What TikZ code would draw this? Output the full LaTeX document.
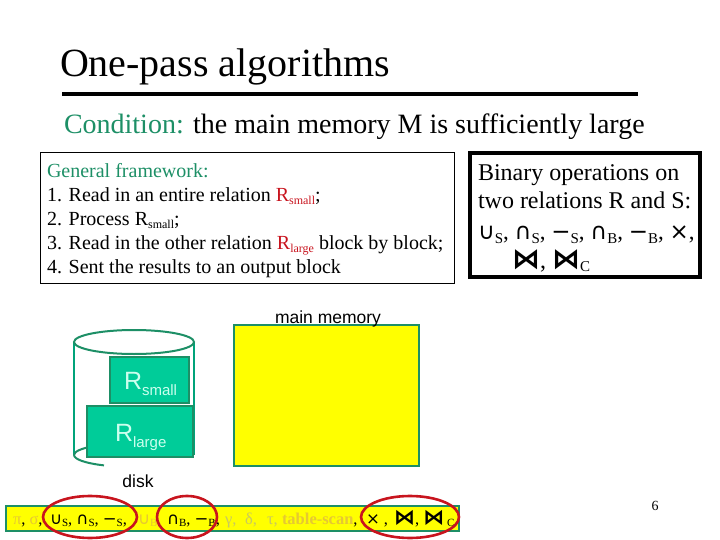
\documentclass[tikz,border=0pt]{standalone}
\usepackage{fontspec}
\setmainfont{Liberation Serif}
\setsansfont{Liberation Sans}
\newfontfamily\opfont{DejaVu Sans}
\definecolor{framegreen}{HTML}{1D8F66}
\definecolor{diskfill}{HTML}{00CC99}
\definecolor{disktext}{HTML}{CCFFEE}
\definecolor{ringred}{HTML}{C8141E}
\definecolor{fadeop}{HTML}{E6C832}
\definecolor{fadegreek}{HTML}{C8C860}
\definecolor{memyellow}{HTML}{FFFF00}
\newcommand{\fsz}[1]{\fontsize{#1}{#1}\selectfont}
\newcommand{\opsym}[1]{{\opfont #1}}
\newcommand{\joinsym}[1]{{\opfont\bfseries\fsz{#1}⋈}}
\newcommand{\low}[3][0.3ex]{\raisebox{-#1}{\fsz{#2}#3}}
\tikzset{
	plain/.style={inner sep=0pt, outer sep=0pt},
	disklabel/.style={plain, anchor=base west, text=disktext, font=\sffamily\fsz{25}},
	sanslabel/.style={plain, anchor=base, font=\sffamily\fsz{17.5}},
	striplabel/.style={plain, anchor=base west, font=\fsz{16.5}},
	binarylabel/.style={plain, anchor=base west, font=\fsz{24}},
	ring/.style={draw=ringred, line width=2.6pt}
}
\begin{document}
\begin{tikzpicture}[x=1pt, y=-1pt]
	\useasboundingbox (0,0) rectangle (720,540);

	% Draw the title and its rule
	\node[plain, anchor=base west, font=\fsz{40}] (title) at (60,77) {One-pass algorithms};
	\draw[line width=4pt] (62,94) -- (638,94);
	\node[plain, anchor=base west, font=\fsz{28}] (condition) at (64,134) {\textcolor{framegreen}{Condition:} the main memory M is sufficiently large};

	% Draw the framework box
	\draw[line width=1pt] (40,153) rectangle (454,283);
	\node[plain, anchor=north west, align=left, font=\fsz{20}] (framework) at (47,163.5) {%
		\textcolor{framegreen}{General framework:}\\[4pt]
		1. Read in an entire relation \textcolor{ringred}{R\low{12}{small}};\\[4pt]
		2. Process R\low{12}{small};\\[4pt]
		3. Read in the other relation \textcolor{ringred}{R\low{12}{large}} block by block;\\[4pt]
		4. Sent the results to an output block};

	% Draw the binary operations box
	\draw[line width=4pt] (470,153) rectangle (700,277);
	\node[binarylabel] (binaryA) at (478,181) {Binary operations on};
	\node[binarylabel] (binaryB) at (478,209) {two relations R and S:};
	\node[binarylabel, font=\fsz{23}] (binaryC) at (478,240) {\opsym{∪}\low{15}{S}, \opsym{∩}\low{15}{S}, \opsym{−}\low{15}{S}, \opsym{∩}\low{15}{B}, \opsym{−}\low{15}{B}, \opsym{×},};
	\node[binarylabel] (binaryD) at (512,268) {\joinsym{28}, \joinsym{28}\low{15}{C}};

	% Draw the disk
	\draw[color=diskfill!80!black, line width=1.5pt] (74,342) -- (74,455);
	\draw[color=diskfill!80!black, line width=1.5pt] (194,342) -- (194,455);
	\draw[color=framegreen, line width=2pt] (74,455) arc[start angle=180, end angle=360, x radius=60, y radius=12];
	\draw[color=framegreen, line width=2pt] (74,455) arc[start angle=180, end angle=120, x radius=60, y radius=12];
	\draw[color=framegreen, line width=2pt, fill=white] (134,342) ellipse[x radius=60, y radius=12];

	% Draw the relations
	\draw[color=framegreen, fill=diskfill, line width=2.5pt] (110,357) rectangle (189,403);
	\draw[color=framegreen, fill=diskfill, line width=2.5pt] (87,406) rectangle (193,457);
	\node[disklabel] (rsmall) at (124,389) {R\low[0.5ex]{15}{small}};
	\node[disklabel] (rlarge) at (115,441) {R\low[0.5ex]{15}{large}};
	\node[sanslabel] (disk) at (138,487) {disk};

	% Draw the main memory
	\draw[color=framegreen, fill=memyellow, line width=2pt] (234,325) rectangle (419,466);
	\node[sanslabel] (memory) at (328,323) {main memory};

	% Draw the operator strip
	\draw[color=framegreen, fill=memyellow, line width=2.5pt] (6,506) rectangle (459,531);
	\node[striplabel] (stripA) at (13,524) {\textcolor{fadeop}{π}, \textcolor{fadeop}{σ},};
	\node[striplabel] (stripB) at (50,524) {\opsym{∪}\low{11}{S}, \opsym{∩}\low{11}{S}, \opsym{−}\low{11}{S},};
	\node[striplabel, text=fadeop] (stripC) at (138,524) {\opsym{∪}\low{11}{B},};
	\node[striplabel] (stripD) at (167,524) {\opsym{∩}\low{11}{B}, \opsym{−}\low{11}{B},};
	\node[striplabel, text=fadegreek] (stripE) at (225,524) {γ,};
	\node[striplabel, text=fadegreek] (stripF) at (245,524) {δ,};
	\node[striplabel, text=fadegreek] (stripG) at (267,524) {τ,};
	\node[striplabel] (stripH) at (282,524) {\textcolor{fadeop}{\textbf{table-scan}},};
	\node[striplabel] (stripI) at (366,524) {\opsym{×} ,};
	\node[striplabel] (stripJ) at (394,524) {\joinsym{21}, \joinsym{21}\,\low{11}{C}};
	\draw[ring] (90,517) ellipse[x radius=47, y radius=21];
	\draw[ring] (187,517) ellipse[x radius=30, y radius=21];
	\draw[ring] (410,517) ellipse[x radius=49, y radius=21];

	% Draw the page number
	\node[plain, anchor=base, font=\fsz{14}] (page) at (655,510) {6};
\end{tikzpicture}
\end{document}
